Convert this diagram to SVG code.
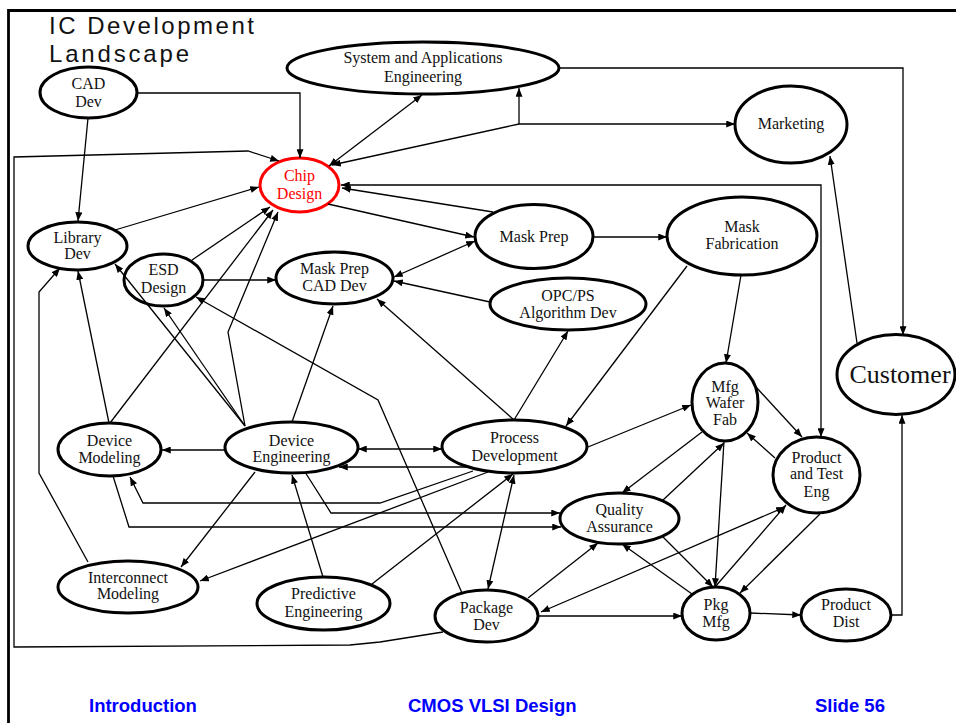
<svg xmlns="http://www.w3.org/2000/svg" width="956" height="723" viewBox="0 0 956 723">
  <style>
    .node { fill: #ffffff; stroke: #000000; stroke-width: 3; }
    .hot { fill: #ffffff; stroke: #ff0000; stroke-width: 3; }
    .lbl { font-family: "Liberation Serif", "Times New Roman", serif; font-size: 16px; fill: #111111; text-anchor: middle; }
    .lblhot { fill: #ff0000; }
    .big { font-size: 26px; }
    .edge { fill: none; stroke: #000000; stroke-width: 1.3; marker-end: url(#ah); }
    .both { marker-start: url(#ah); }
    .plain { fill: none; stroke: #000000; stroke-width: 1.3; }
    .title { font-family: "Liberation Sans", Arial, sans-serif; font-size: 24px; fill: #111111; }
    .foot { font-family: "Liberation Sans", Arial, sans-serif; font-size: 18.5px; font-weight: bold; fill: #0000ff; }
  </style>
  <defs>
    <marker id="ah" viewBox="0 0 10 8" refX="10" refY="4" markerWidth="9" markerHeight="7" markerUnits="userSpaceOnUse" orient="auto-start-reverse">
      <path d="M0,0 L10,4 L0,8 z" fill="#000000"/>
    </marker>
  </defs>

  <rect x="0" y="0" width="956" height="723" fill="#ffffff"/>

  <!-- slide border -->
  <path d="M8.5,723 V10.5 H956" fill="none" stroke="#000000" stroke-width="2.8"/>

  <!-- title -->
  <text class="title" x="49" y="34" textLength="205" lengthAdjust="spacing">IC Development</text>
  <text class="title" x="49" y="62" textLength="140" lengthAdjust="spacing">Landscape</text>

  <!-- nodes -->
  <g id="cad-dev">
    <ellipse class="node" cx="88.5" cy="92.5" rx="48.5" ry="25.5"/>
    <text class="lbl" x="88.5" y="89">CAD</text>
    <text class="lbl" x="88.5" y="107">Dev</text>
  </g>
  <g id="system-apps">
    <ellipse class="node" cx="423" cy="68" rx="136" ry="26"/>
    <text class="lbl" x="423" y="63">System and Applications</text>
    <text class="lbl" x="423" y="82">Engineering</text>
  </g>
  <g id="marketing">
    <ellipse class="node" cx="791" cy="124.5" rx="56" ry="38.5"/>
    <text class="lbl" x="791" y="129">Marketing</text>
  </g>
  <g id="chip-design">
    <ellipse class="hot" cx="299.5" cy="185" rx="39.5" ry="27"/>
    <text class="lbl lblhot" x="299.5" y="181">Chip</text>
    <text class="lbl lblhot" x="299.5" y="199">Design</text>
  </g>
  <g id="library-dev">
    <ellipse class="node" cx="77.5" cy="246" rx="49.5" ry="24"/>
    <text class="lbl" x="77.5" y="243">Library</text>
    <text class="lbl" x="77.5" y="259">Dev</text>
  </g>
  <g id="esd-design">
    <ellipse class="node" cx="163.5" cy="280" rx="39.5" ry="26"/>
    <text class="lbl" x="163.5" y="275">ESD</text>
    <text class="lbl" x="163.5" y="293">Design</text>
  </g>
  <g id="mask-prep-cad">
    <ellipse class="node" cx="334.5" cy="278" rx="58.5" ry="26"/>
    <text class="lbl" x="334.5" y="274">Mask Prep</text>
    <text class="lbl" x="334.5" y="291">CAD Dev</text>
  </g>
  <g id="mask-prep">
    <ellipse class="node" cx="534" cy="236.5" rx="59" ry="32"/>
    <text class="lbl" x="534" y="242">Mask Prep</text>
  </g>
  <g id="mask-fab">
    <ellipse class="node" cx="742" cy="236" rx="75" ry="39"/>
    <text class="lbl" x="742" y="232">Mask</text>
    <text class="lbl" x="742" y="249">Fabrication</text>
  </g>
  <g id="opc-ps">
    <ellipse class="node" cx="568" cy="304" rx="78" ry="26"/>
    <text class="lbl" x="568" y="301">OPC/PS</text>
    <text class="lbl" x="568" y="318">Algorithm Dev</text>
  </g>
  <g id="customer">
    <ellipse class="node" cx="896" cy="374.5" rx="59" ry="40"/>
    <text class="lbl big" x="900" y="383">Customer</text>
  </g>
  <g id="mfg-wafer-fab">
    <ellipse class="node" cx="725" cy="402" rx="33" ry="39"/>
    <text class="lbl" x="725" y="392">Mfg</text>
    <text class="lbl" x="725" y="408">Wafer</text>
    <text class="lbl" x="725" y="425">Fab</text>
  </g>
  <g id="product-test">
    <ellipse class="node" cx="816.5" cy="475" rx="43.5" ry="38"/>
    <text class="lbl" x="816.5" y="463">Product</text>
    <text class="lbl" x="816.5" y="479">and Test</text>
    <text class="lbl" x="816.5" y="497">Eng</text>
  </g>
  <g id="device-modeling">
    <ellipse class="node" cx="109.5" cy="449.5" rx="51.5" ry="26.5"/>
    <text class="lbl" x="109.5" y="446">Device</text>
    <text class="lbl" x="109.5" y="463">Modeling</text>
  </g>
  <g id="device-engineering">
    <ellipse class="node" cx="291.5" cy="447.5" rx="66.5" ry="25.5"/>
    <text class="lbl" x="291.5" y="446">Device</text>
    <text class="lbl" x="291.5" y="462">Engineering</text>
  </g>
  <g id="process-development">
    <ellipse class="node" cx="514.5" cy="446.5" rx="72.5" ry="26.5"/>
    <text class="lbl" x="514.5" y="443">Process</text>
    <text class="lbl" x="514.5" y="461">Development</text>
  </g>
  <g id="quality-assurance">
    <ellipse class="node" cx="619.5" cy="518.5" rx="59.5" ry="25.5"/>
    <text class="lbl" x="619.5" y="515">Quality</text>
    <text class="lbl" x="619.5" y="532">Assurance</text>
  </g>
  <g id="interconnect-modeling">
    <ellipse class="node" cx="128" cy="587" rx="70" ry="26"/>
    <text class="lbl" x="128" y="583">Interconnect</text>
    <text class="lbl" x="128" y="599">Modeling</text>
  </g>
  <g id="predictive-engineering">
    <ellipse class="node" cx="323.5" cy="603.5" rx="66.5" ry="26.5"/>
    <text class="lbl" x="323.5" y="599">Predictive</text>
    <text class="lbl" x="323.5" y="617">Engineering</text>
  </g>
  <g id="package-dev">
    <ellipse class="node" cx="486.5" cy="616" rx="51.5" ry="26"/>
    <text class="lbl" x="486.5" y="613">Package</text>
    <text class="lbl" x="486.5" y="630">Dev</text>
  </g>
  <g id="pkg-mfg">
    <ellipse class="node" cx="716" cy="613.5" rx="34" ry="26.5"/>
    <text class="lbl" x="716" y="610">Pkg</text>
    <text class="lbl" x="716" y="627">Mfg</text>
  </g>
  <g id="product-dist">
    <ellipse class="node" cx="846" cy="615" rx="45" ry="26"/>
    <text class="lbl" x="846" y="610">Product</text>
    <text class="lbl" x="846" y="627">Dist</text>
  </g>

  <!-- connectors -->
  <g id="connectors">
    <path class="edge" d="M137,93 H300 V158"/>
    <path class="edge" d="M88,118 L78,221"/>
    <path class="edge" d="M443,632 L380,642 L350,645 L14,647 V157 L248,151 L279,161"/>
    <path class="edge" d="M115,230 L259,187"/>
    <path class="edge both" d="M422,95 L329,166"/>
    <path class="edge" d="M519,124 L332,165"/>
    <path class="edge" d="M519,124 H735"/>
    <path class="edge" d="M519,124 V88"/>
    <path class="edge" d="M559,68 H903 V335"/>
    <path class="edge both" d="M341,185 H821 V437"/>
    <path class="edge" d="M493,212 L342,188"/>
    <path class="edge" d="M328,204 L474,237"/>
    <path class="edge" d="M593,237 H667"/>
    <path class="edge both" d="M475,241 L394,277"/>
    <path class="edge" d="M490,302 L394,281"/>
    <path class="edge" d="M203,280 H276"/>
    <path class="edge" d="M192,260 L270,207"/>
    <path class="edge" d="M110,423 L273,210"/>
    <path class="edge" d="M245,426 L228,332 L278,212"/>
    <path class="edge" d="M245,426 L115,264"/>
    <path class="edge" d="M245,426 L164,308"/>
    <path class="edge" d="M109,423 L78,271"/>
    <path class="edge" d="M88,562 L39,473 V292 L60,268"/>
    <path class="edge" d="M462,593 L378,400 L196,297"/>
    <path class="edge" d="M292,422 L333,306"/>
    <path class="edge" d="M514,420 L377,299"/>
    <path class="edge" d="M514,420 L568,331"/>
    <path class="edge" d="M687,266 L566,426"/>
    <path class="edge" d="M741,275 L726,363"/>
    <path class="edge" d="M857,343 L830,156"/>
    <path class="edge" d="M891,615 H902 V415"/>
    <path class="edge" d="M225,450 H162"/>
    <path class="edge both" d="M358,449 H442"/>
    <path class="edge" d="M470,467 H339"/>
    <path class="edge" d="M473,471 L380,503 H143 L130,477"/>
    <path class="edge" d="M113,476 L129,527 H561"/>
    <path class="edge" d="M305,472 L331,513 H560"/>
    <path class="edge" d="M488,472 L200,581"/>
    <path class="edge" d="M255,472 L181,567"/>
    <path class="edge" d="M323,577 L292,475"/>
    <path class="edge" d="M372,584 L513,474"/>
    <path class="edge both" d="M514,475 L488,589"/>
    <path class="edge" d="M588,447 L691,405"/>
    <path class="edge" d="M702,432 L622,493"/>
    <path class="edge" d="M663,500 L724,443"/>
    <path class="edge" d="M724,441 L715,587"/>
    <path class="edge" d="M756,387 L802,437"/>
    <path class="edge" d="M775,458 L747,433"/>
    <path class="edge" d="M663,537 L713,587"/>
    <path class="edge" d="M692,594 L622,544"/>
    <path class="edge" d="M715,587 L786,505"/>
    <path class="edge both" d="M541,612 L785,507"/>
    <path class="edge" d="M820,514 L740,593"/>
    <path class="edge" d="M528,598 L598,543"/>
    <path class="edge" d="M538,616 H682"/>
    <path class="edge" d="M750,613 L801,615"/>
  </g>

  <!-- footer -->
  <text class="foot" x="89" y="712">Introduction</text>
  <text class="foot" x="408" y="712">CMOS VLSI Design</text>
  <text class="foot" x="815" y="712">Slide 56</text>
</svg>
